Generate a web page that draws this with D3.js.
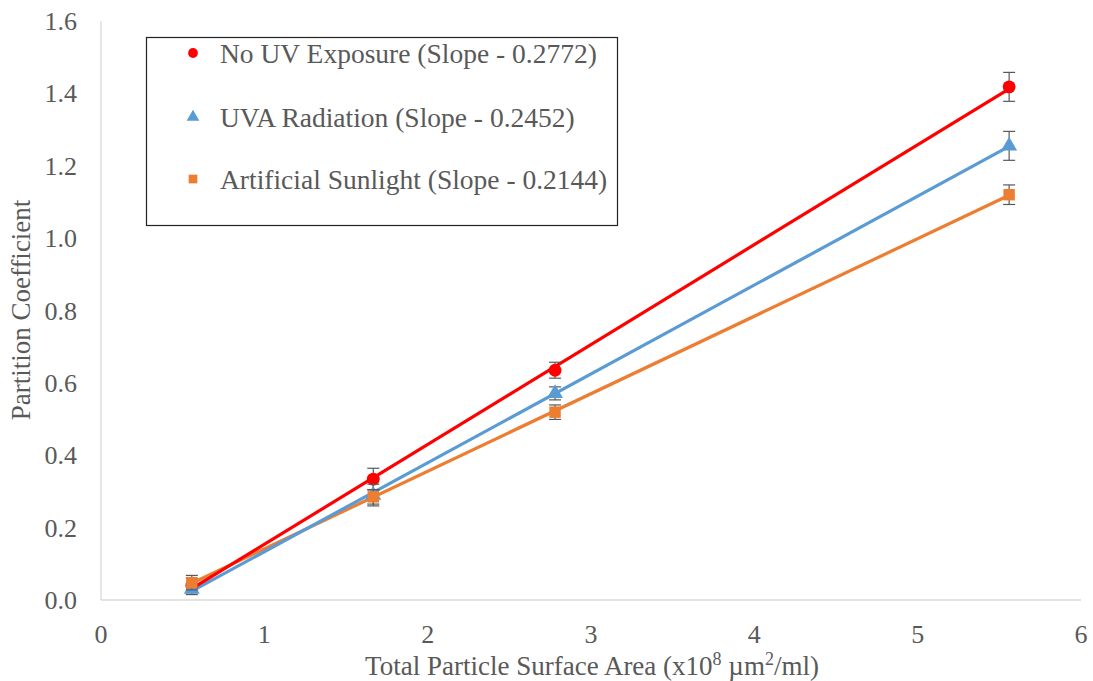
<!DOCTYPE html>
<html><head><meta charset="utf-8">
<script src="https://cdn.jsdelivr.net/npm/d3@7"></script>
<style>body{margin:0;background:#fff} text{font-family:"Liberation Serif","Times New Roman","DejaVu Serif",serif;}</style>
</head><body><svg id="c" width="1093" height="681"></svg>
<script>
const xValues = [0.556, 1.667, 2.78, 5.56];
const noUV = [0.04, 0.334, 0.635, 1.418];
const noUVErr = [0.02, 0.03, 0.022, 0.04];
const uva = [0.03, 0.29, 0.571, 1.255];
const uvaErr = [0.015, 0.03, 0.018, 0.04];
const sun = [0.048, 0.285, 0.519, 1.12];
const sunErr = [0.02, 0.02, 0.02, 0.027];
const seriesNames = ["No UV Exposure (Slope - 0.2772)", "UVA Radiation (Slope - 0.2452)", "Artificial Sunlight (Slope - 0.2144)"];
const xTicks = [0,1,2,3,4,5,6];
const yTicks = [0,0.2,0.4,0.6,0.8,1.0,1.2,1.4,1.6];

const series = [
  {name: seriesNames[0], vals: noUV, err: noUVErr, color: "#ff0000", shape: d3.symbolCircle},
  {name: seriesNames[1], vals: uva, err: uvaErr, color: "#5b9bd5", shape: d3.symbolTriangle},
  {name: seriesNames[2], vals: sun, err: sunErr, color: "#ed7d31", shape: d3.symbolSquare}
];

const svg = d3.select("#c");
const x = d3.scaleLinear().domain([0,6]).range([101,1081]);
const y = d3.scaleLinear().domain([0,1.6]).range([600,21]);
const grey = "#595959";

svg.append("line").attr("x1",x(0)).attr("x2",x(6)).attr("y1",y(0)).attr("y2",y(0)).attr("stroke","#d9d9d9").attr("stroke-width",1.3);
svg.append("line").attr("x1",x(0)).attr("x2",x(0)).attr("y1",y(0)).attr("y2",y(1.6)).attr("stroke","#d9d9d9").attr("stroke-width",1.3);

svg.selectAll(".xt").data(xTicks).enter().append("text")
  .attr("x",d=>x(d)).attr("y",643).attr("text-anchor","middle")
  .attr("font-size",26).attr("fill",grey).text(d=>d);
svg.selectAll(".yt").data(yTicks).enter().append("text")
  .attr("x",77).attr("y",d=>y(d)+9).attr("text-anchor","end")
  .attr("font-size",26).attr("fill",grey).text(d=>d.toFixed(1));

const xt = svg.append("text").attr("x",592).attr("y",675).attr("text-anchor","middle")
  .attr("font-size",27).attr("fill",grey);
xt.append("tspan").text("Total Particle Surface Area (x10");
xt.append("tspan").attr("font-size",18).attr("dy",-10).text("8");
xt.append("tspan").attr("dy",10).text(" \u00b5m");
xt.append("tspan").attr("font-size",18).attr("dy",-10).text("2");
xt.append("tspan").attr("dy",10).text("/ml)");

svg.append("text").attr("transform","translate(30,310) rotate(-90)").attr("text-anchor","middle")
  .attr("font-size",27).attr("fill",grey).text("Partition Coefficient");

series.forEach(s=>{
  const n = xValues.length;
  const mx = d3.mean(xValues), my = d3.mean(s.vals);
  let num=0, den=0;
  xValues.forEach((xv,i)=>{num+=(xv-mx)*(s.vals[i]-my); den+=(xv-mx)**2;});
  const m = num/den, b = my - m*mx;
  const x0 = xValues[0], x1 = xValues[n-1];
  s.line = [[x0, m*x0+b],[x1, m*x1+b]];
});
[series[2], series[1], series[0]].forEach(s=>{
  svg.append("line").attr("x1",x(s.line[0][0])).attr("y1",y(s.line[0][1]))
    .attr("x2",x(s.line[1][0])).attr("y2",y(s.line[1][1]))
    .attr("stroke",s.color).attr("stroke-width",3.2);
});

series.forEach(s=>{
  const g = svg.append("g");
  xValues.forEach((xv,i)=>{
    const cx = x(xv), top = y(s.vals[i]+s.err[i]), bot = y(s.vals[i]-s.err[i]);
    g.append("line").attr("x1",cx).attr("x2",cx).attr("y1",top).attr("y2",bot).attr("stroke",grey).attr("stroke-width",1.2);
    g.append("line").attr("x1",cx-6).attr("x2",cx+6).attr("y1",top).attr("y2",top).attr("stroke",grey).attr("stroke-width",1.2);
    g.append("line").attr("x1",cx-6).attr("x2",cx+6).attr("y1",bot).attr("y2",bot).attr("stroke",grey).attr("stroke-width",1.2);
  });
  g.selectAll("path").data(s.vals).enter().append("path")
    .attr("d", d3.symbol().type(s.shape).size(s.shape===d3.symbolTriangle?110:130))
    .attr("transform",(d,i)=>`translate(${x(xValues[i])},${y(d)})`)
    .attr("fill",s.color);
});

svg.append("rect").attr("x",146.5).attr("y",37.5).attr("width",471).attr("height",188)
  .attr("fill","#fff").attr("stroke","#222").attr("stroke-width",1.2);
const legY = [53, 117, 179];
series.forEach((s,i)=>{
  svg.append("path").attr("d", d3.symbol().type(s.shape).size(s.shape===d3.symbolTriangle?70:75))
    .attr("transform",`translate(193,${legY[i]})`).attr("fill",s.color);
  svg.append("text").attr("x",220).attr("y",legY[i]+10).attr("font-size",27.5)
    .attr("fill",grey).text(s.name);
});
</script></body></html>
